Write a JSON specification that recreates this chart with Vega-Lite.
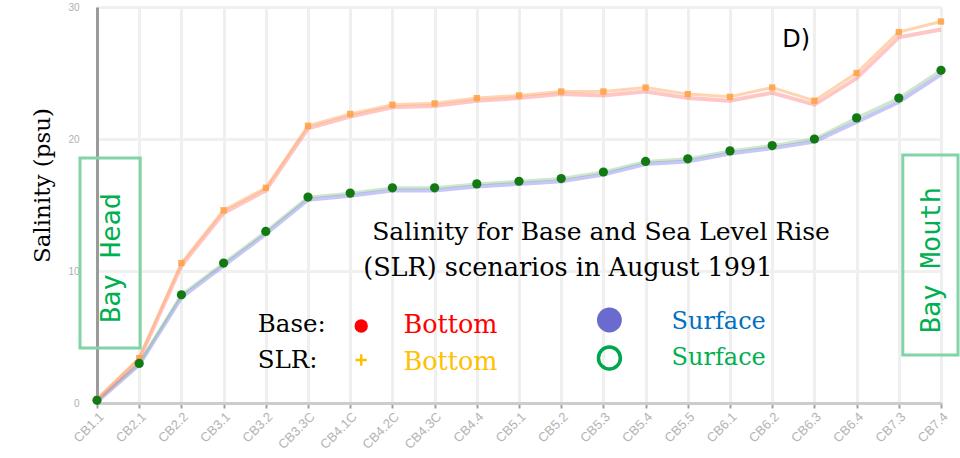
{
  "$schema": "https://vega.github.io/schema/vega-lite/v6.json",
  "width": 844,
  "height": 396,
  "autosize": "none",
  "padding": {"left": 97, "top": 7, "right": 19, "bottom": 55},
  "background": "white",
  "config": {"view": {"stroke": null}},
  "datasets": {
    "salinity": [
      {"station": "CB1.1", "Base Bottom": 0.2, "SLR Bottom": 0.3, "Base Surface": 0.1, "SLR Surface": 0.2},
      {"station": "CB2.1", "Base Bottom": 3.3, "SLR Bottom": 3.4, "Base Surface": 2.9, "SLR Surface": 3.0},
      {"station": "CB2.2", "Base Bottom": 10.4, "SLR Bottom": 10.6, "Base Surface": 8.0, "SLR Surface": 8.2},
      {"station": "CB3.1", "Base Bottom": 14.4, "SLR Bottom": 14.6, "Base Surface": 10.4, "SLR Surface": 10.6},
      {"station": "CB3.2", "Base Bottom": 16.1, "SLR Bottom": 16.3, "Base Surface": 12.8, "SLR Surface": 13.0},
      {"station": "CB3.3C", "Base Bottom": 20.8, "SLR Bottom": 21.0, "Base Surface": 15.4, "SLR Surface": 15.6},
      {"station": "CB4.1C", "Base Bottom": 21.7, "SLR Bottom": 21.9, "Base Surface": 15.7, "SLR Surface": 15.9},
      {"station": "CB4.2C", "Base Bottom": 22.4, "SLR Bottom": 22.6, "Base Surface": 16.1, "SLR Surface": 16.3},
      {"station": "CB4.3C", "Base Bottom": 22.5, "SLR Bottom": 22.7, "Base Surface": 16.1, "SLR Surface": 16.3},
      {"station": "CB4.4", "Base Bottom": 22.9, "SLR Bottom": 23.1, "Base Surface": 16.4, "SLR Surface": 16.6},
      {"station": "CB5.1", "Base Bottom": 23.1, "SLR Bottom": 23.3, "Base Surface": 16.6, "SLR Surface": 16.8},
      {"station": "CB5.2", "Base Bottom": 23.4, "SLR Bottom": 23.6, "Base Surface": 16.8, "SLR Surface": 17.0},
      {"station": "CB5.3", "Base Bottom": 23.3, "SLR Bottom": 23.6, "Base Surface": 17.3, "SLR Surface": 17.5},
      {"station": "CB5.4", "Base Bottom": 23.6, "SLR Bottom": 23.9, "Base Surface": 18.1, "SLR Surface": 18.3},
      {"station": "CB5.5", "Base Bottom": 23.1, "SLR Bottom": 23.4, "Base Surface": 18.3, "SLR Surface": 18.5},
      {"station": "CB6.1", "Base Bottom": 22.9, "SLR Bottom": 23.2, "Base Surface": 18.9, "SLR Surface": 19.1},
      {"station": "CB6.2", "Base Bottom": 23.5, "SLR Bottom": 23.9, "Base Surface": 19.3, "SLR Surface": 19.5},
      {"station": "CB6.3", "Base Bottom": 22.6, "SLR Bottom": 22.9, "Base Surface": 19.8, "SLR Surface": 20.0},
      {"station": "CB6.4", "Base Bottom": 24.6, "SLR Bottom": 25.0, "Base Surface": 21.3, "SLR Surface": 21.6},
      {"station": "CB7.3", "Base Bottom": 27.7, "SLR Bottom": 28.1, "Base Surface": 22.8, "SLR Surface": 23.1},
      {"station": "CB7.4", "Base Bottom": 28.3, "SLR Bottom": 28.9, "Base Surface": 24.9, "SLR Surface": 25.2}
    ]
  },
  "encoding": {
    "x": {
      "field": "station",
      "type": "ordinal",
      "scale": {
        "type": "point",
        "padding": 0,
        "domain": ["CB1.1","CB2.1","CB2.2","CB3.1","CB3.2","CB3.3C","CB4.1C","CB4.2C","CB4.3C","CB4.4","CB5.1","CB5.2","CB5.3","CB5.4","CB5.5","CB6.1","CB6.2","CB6.3","CB6.4","CB7.3","CB7.4"]
      },
      "axis": {
        "title": null,
        "labelAngle": -45,
        "labelColor": "#b4b4b4",
        "labelFont": "Liberation Sans",
        "labelFontSize": 13,
        "labelPadding": 2,
        "domainColor": "#cccccc",
        "domainWidth": 3,
        "tickColor": "#a0a0a0",
        "tickSize": 5,
        "tickWidth": 2,
        "grid": true,
        "gridColor": "#efefef",
        "gridWidth": 3
      }
    },
    "y": {
      "field": "value",
      "type": "quantitative",
      "scale": {"domain": [0, 30], "nice": false, "zero": true},
      "axis": {
        "title": "Salinity (psu)",
        "titleFont": "DejaVu Serif",
        "titleFontSize": 23,
        "titleFontWeight": "normal",
        "titleColor": "#000000",
        "titleAngle": 270,
        "titleX": -55,
        "titleY": 178,
        "titleAlign": "center",
        "titleBaseline": "middle",
        "values": [0, 10, 20, 30],
        "ticks": false,
        "labelPadding": 18,
        "labelColor": "#b0b0b0",
        "labelFont": "Liberation Sans",
        "labelFontSize": 10,
        "domainColor": "#9a9a9a",
        "domainWidth": 3,
        "grid": true,
        "gridColor": "#f0f0f0",
        "gridWidth": 3
      }
    }
  },
  "layer": [
    {
      "data": {"values": [{"station": "CB7.4"}]},
      "mark": {"type": "rule", "color": "#aaaaaa", "strokeWidth": 3},
      "encoding": {"y": {"datum": 0}, "y2": {"datum": 29.5}}
    },
    {
      "data": {"name": "salinity"},
      "transform": [{"fold": ["Base Surface"], "as": ["series", "value"]}],
      "mark": {"type": "line", "color": "#8080ee", "strokeWidth": 4, "opacity": 0.45}
    },
    {
      "data": {"name": "salinity"},
      "transform": [{"fold": ["SLR Surface"], "as": ["series", "value"]}],
      "mark": {"type": "line", "color": "#6fb86f", "strokeWidth": 3, "opacity": 0.35}
    },
    {
      "data": {"name": "salinity"},
      "transform": [{"fold": ["Base Bottom"], "as": ["series", "value"]}],
      "mark": {"type": "line", "color": "#ff7070", "strokeWidth": 4, "opacity": 0.4}
    },
    {
      "data": {"name": "salinity"},
      "transform": [{"fold": ["SLR Bottom"], "as": ["series", "value"]}],
      "mark": {"type": "line", "color": "#ffb070", "strokeWidth": 3, "opacity": 0.55}
    },
    {
      "data": {"name": "salinity"},
      "transform": [{"fold": ["SLR Bottom"], "as": ["series", "value"]}],
      "mark": {"type": "point", "shape": "square", "filled": true, "color": "#ffa040", "size": 40, "opacity": 0.85}
    },
    {
      "data": {"name": "salinity"},
      "transform": [{"fold": ["SLR Surface"], "as": ["series", "value"]}],
      "mark": {"type": "point", "shape": "circle", "filled": true, "color": "#137a13", "size": 85, "opacity": 1}
    },
    {
      "data": {"values": [{"station": "CB6.2", "value": 27.5, "label": "D)"}]},
      "mark": {"type": "text", "font": "DejaVu Sans", "fontSize": 24, "color": "#000000", "align": "left", "baseline": "middle", "dx": 10},
      "encoding": {"text": {"field": "label"}}
    },
    {
      "data": {"values": [{"station": "CB4.1C", "value": 12.95, "label": "Salinity for Base and Sea Level Rise"}]},
      "mark": {"type": "text", "font": "DejaVu Serif", "fontSize": 25, "color": "#000000", "align": "left", "baseline": "middle", "dx": 22},
      "encoding": {"text": {"field": "label"}}
    },
    {
      "data": {"values": [{"station": "CB4.1C", "value": 10.23, "label": "(SLR) scenarios in August 1991"}]},
      "mark": {"type": "text", "font": "DejaVu Serif", "fontSize": 25.5, "color": "#000000", "align": "left", "baseline": "middle", "dx": 13},
      "encoding": {"text": {"field": "label"}}
    },
    {
      "data": {"values": [{"station": "CB3.2", "value": 5.9, "label": "Base:"}, {"station": "CB3.2", "value": 3.2, "label": "SLR:"}]},
      "mark": {"type": "text", "font": "DejaVu Serif", "fontSize": 24.5, "color": "#000000", "align": "left", "baseline": "middle", "dx": -8},
      "encoding": {"text": {"field": "label"}}
    },
    {
      "data": {"values": [
        {"station": "CB4.2C", "value": 5.9, "label": "Bottom", "series": "Base Bottom"},
        {"station": "CB4.2C", "value": 3.1, "label": "Bottom", "series": "SLR Bottom"}
      ]},
      "mark": {"type": "text", "font": "DejaVu Serif", "fontSize": 25.5, "align": "left", "baseline": "middle", "dx": 11},
      "encoding": {
        "text": {"field": "label"},
        "color": {"field": "series", "type": "nominal", "legend": null,
          "scale": {"domain": ["Base Bottom", "SLR Bottom", "Base Surface", "SLR Surface"], "range": ["#ff0000", "#ffc000", "#0070c0", "#00b050"]}}
      }
    },
    {
      "data": {"values": [
        {"station": "CB5.4", "value": 6.14, "label": "Surface", "series": "Base Surface"},
        {"station": "CB5.4", "value": 3.41, "label": "Surface", "series": "SLR Surface"}
      ]},
      "mark": {"type": "text", "font": "DejaVu Serif", "fontSize": 24, "align": "left", "baseline": "middle", "dx": 26},
      "encoding": {
        "text": {"field": "label"},
        "color": {"field": "series", "type": "nominal", "legend": null}
      }
    },
    {
      "data": {"values": [{"station": "CB4.1C", "value": 5.83}]},
      "mark": {"type": "point", "shape": "circle", "filled": true, "color": "#ff0000", "size": 180, "opacity": 1, "xOffset": 11}
    },
    {
      "data": {"values": [{"station": "CB4.1C", "value": 3.26}]},
      "mark": {"type": "point", "shape": "M-1,0H1M0,-1V1", "filled": false, "color": "#ffc000", "strokeWidth": 2.5, "size": 130, "opacity": 1, "xOffset": 11}
    },
    {
      "data": {"values": [{"station": "CB5.3", "value": 6.29}]},
      "mark": {"type": "point", "shape": "circle", "filled": true, "color": "#6b6bcf", "size": 620, "opacity": 1, "xOffset": 6}
    },
    {
      "data": {"values": [{"station": "CB5.3", "value": 3.41}]},
      "mark": {"type": "point", "shape": "circle", "filled": false, "color": "#00a64c", "strokeWidth": 3.5, "size": 480, "opacity": 1, "xOffset": 6}
    },
    {
      "data": {"values": [{"station": "CB1.1", "station_end": "CB2.1", "value": 4.17, "value_end": 18.56}]},
      "mark": {"type": "rect", "fill": null, "fillOpacity": 0, "stroke": "#80d4a6", "strokeWidth": 3, "xOffset": -17, "x2Offset": 1},
      "encoding": {"x2": {"field": "station_end"}, "y2": {"field": "value_end"}}
    },
    {
      "data": {"values": [{"station": "CB7.3", "station_end": "CB7.4", "value": 3.64, "value_end": 18.79}]},
      "mark": {"type": "rect", "fill": null, "fillOpacity": 0, "stroke": "#80d4a6", "strokeWidth": 3, "xOffset": 4, "x2Offset": 17},
      "encoding": {"x2": {"field": "station_end"}, "y2": {"field": "value_end"}}
    },
    {
      "data": {"values": [{"station": "CB1.1", "value": 10.98, "label": "Bay Head"}]},
      "mark": {"type": "text", "font": "DejaVu Sans Mono", "fontSize": 27, "color": "#00b050", "angle": 270, "align": "center", "baseline": "middle", "dy": 15},
      "encoding": {"text": {"field": "label"}}
    },
    {
      "data": {"values": [{"station": "CB7.4", "value": 10.83, "label": "Bay Mouth"}]},
      "mark": {"type": "text", "font": "DejaVu Sans Mono", "fontSize": 27, "color": "#00b050", "angle": 270, "align": "center", "baseline": "middle", "dy": -9},
      "encoding": {"text": {"field": "label"}}
    }
  ]
}
